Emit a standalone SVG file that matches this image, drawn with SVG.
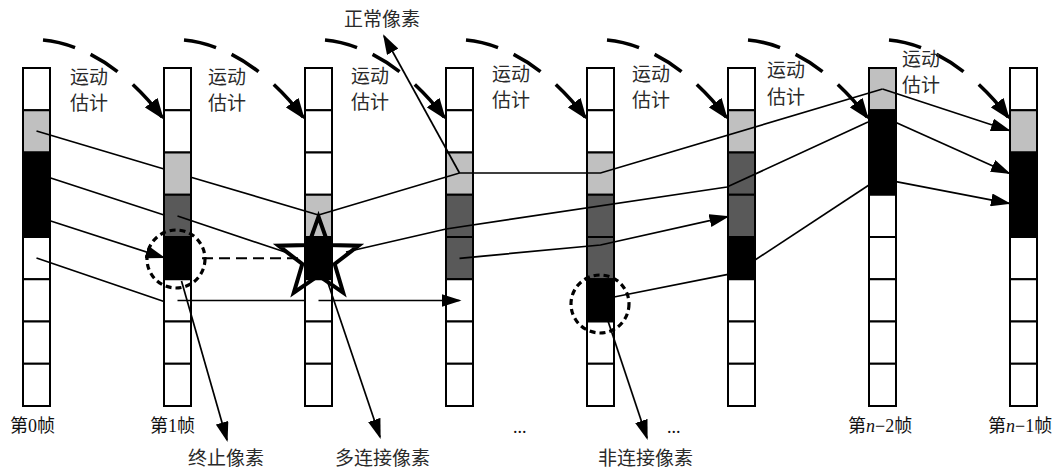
<svg xmlns="http://www.w3.org/2000/svg" xmlns:xlink="http://www.w3.org/1999/xlink" width="1064" height="469" viewBox="0 0 1064 469">
<style>
.cw{fill:#fff;stroke:#000;stroke-width:2}
.cl{fill:#c0c0c0;stroke:#000;stroke-width:2}
.cd{fill:#595959;stroke:#000;stroke-width:2}
.cb{fill:#000;stroke:#000;stroke-width:2}
.ln{fill:none;stroke:#000;stroke-width:1.7}
.ar{fill:none;stroke:#000;stroke-width:1.7;marker-end:url(#arr)}
.me{fill:none;stroke:#000;stroke-width:3.6;stroke-dasharray:33 17 32 20 80;marker-end:url(#arrB)}
.dsh{fill:none;stroke:#000;stroke-width:2;stroke-dasharray:11 6}
.ring{fill:none;stroke:#000;stroke-width:3.2;stroke-dasharray:6 4}
.lab{font-family:"Noto Sans CJK SC","Noto Sans",sans-serif;font-size:19px;fill:#2a2a2a}
.frm{font-family:"Liberation Serif","Noto Sans CJK SC",serif;font-size:18px;fill:#111}
</style>
<defs>
<marker id="arr" markerUnits="userSpaceOnUse" markerWidth="20" markerHeight="13" refX="18" refY="6.5" orient="auto"><path d="M0,0 L20,6.5 L0,13 z" fill="#000"/></marker>
<marker id="arrB" markerUnits="userSpaceOnUse" markerWidth="21" markerHeight="16" refX="18" refY="8" orient="auto"><path d="M0,0 L21,8 L0,16 z" fill="#000"/></marker>
</defs>
<rect width="1064" height="469" fill="#fff"/>

<g id="frame0">
<rect class="cw" x="23" y="68" width="27" height="42.25"/>
<rect class="cl" x="23" y="110.25" width="27" height="42.25"/>
<rect class="cb" x="23" y="152.5" width="27" height="42.25"/>
<rect class="cb" x="23" y="194.75" width="27" height="42.25"/>
<rect class="cw" x="23" y="237" width="27" height="42.25"/>
<rect class="cw" x="23" y="279.25" width="27" height="42.25"/>
<rect class="cw" x="23" y="321.5" width="27" height="42.25"/>
<rect class="cw" x="23" y="363.75" width="27" height="42.25"/>
</g>
<g id="frame1">
<rect class="cw" x="164" y="68" width="27" height="42.25"/>
<rect class="cw" x="164" y="110.25" width="27" height="42.25"/>
<rect class="cl" x="164" y="152.5" width="27" height="42.25"/>
<rect class="cd" x="164" y="194.75" width="27" height="42.25"/>
<rect class="cb" x="164" y="237" width="27" height="42.25"/>
<rect class="cw" x="164" y="279.25" width="27" height="42.25"/>
<rect class="cw" x="164" y="321.5" width="27" height="42.25"/>
<rect class="cw" x="164" y="363.75" width="27" height="42.25"/>
</g>
<g id="frame2">
<rect class="cw" x="305" y="68" width="27" height="42.25"/>
<rect class="cw" x="305" y="110.25" width="27" height="42.25"/>
<rect class="cw" x="305" y="152.5" width="27" height="42.25"/>
<rect class="cl" x="305" y="194.75" width="27" height="42.25"/>
<rect class="cb" x="305" y="237" width="27" height="42.25"/>
<rect class="cw" x="305" y="279.25" width="27" height="42.25"/>
<rect class="cw" x="305" y="321.5" width="27" height="42.25"/>
<rect class="cw" x="305" y="363.75" width="27" height="42.25"/>
</g>
<g id="frame3">
<rect class="cw" x="446" y="68" width="27" height="42.25"/>
<rect class="cw" x="446" y="110.25" width="27" height="42.25"/>
<rect class="cl" x="446" y="152.5" width="27" height="42.25"/>
<rect class="cd" x="446" y="194.75" width="27" height="42.25"/>
<rect class="cd" x="446" y="237" width="27" height="42.25"/>
<rect class="cw" x="446" y="279.25" width="27" height="42.25"/>
<rect class="cw" x="446" y="321.5" width="27" height="42.25"/>
<rect class="cw" x="446" y="363.75" width="27" height="42.25"/>
</g>
<g id="frame4">
<rect class="cw" x="587" y="68" width="27" height="42.25"/>
<rect class="cw" x="587" y="110.25" width="27" height="42.25"/>
<rect class="cl" x="587" y="152.5" width="27" height="42.25"/>
<rect class="cd" x="587" y="194.75" width="27" height="42.25"/>
<rect class="cd" x="587" y="237" width="27" height="42.25"/>
<rect class="cb" x="587" y="279.25" width="27" height="42.25"/>
<rect class="cw" x="587" y="321.5" width="27" height="42.25"/>
<rect class="cw" x="587" y="363.75" width="27" height="42.25"/>
</g>
<g id="frame5">
<rect class="cw" x="728" y="68" width="27" height="42.25"/>
<rect class="cl" x="728" y="110.25" width="27" height="42.25"/>
<rect class="cd" x="728" y="152.5" width="27" height="42.25"/>
<rect class="cd" x="728" y="194.75" width="27" height="42.25"/>
<rect class="cb" x="728" y="237" width="27" height="42.25"/>
<rect class="cw" x="728" y="279.25" width="27" height="42.25"/>
<rect class="cw" x="728" y="321.5" width="27" height="42.25"/>
<rect class="cw" x="728" y="363.75" width="27" height="42.25"/>
</g>
<g id="frame6">
<rect class="cl" x="869" y="68" width="27" height="42.25"/>
<rect class="cb" x="869" y="110.25" width="27" height="42.25"/>
<rect class="cb" x="869" y="152.5" width="27" height="42.25"/>
<rect class="cw" x="869" y="194.75" width="27" height="42.25"/>
<rect class="cw" x="869" y="237" width="27" height="42.25"/>
<rect class="cw" x="869" y="279.25" width="27" height="42.25"/>
<rect class="cw" x="869" y="321.5" width="27" height="42.25"/>
<rect class="cw" x="869" y="363.75" width="27" height="42.25"/>
</g>
<g id="frame7">
<rect class="cw" x="1010" y="68" width="27" height="42.25"/>
<rect class="cl" x="1010" y="110.25" width="27" height="42.25"/>
<rect class="cb" x="1010" y="152.5" width="27" height="42.25"/>
<rect class="cb" x="1010" y="194.75" width="27" height="42.25"/>
<rect class="cw" x="1010" y="237" width="27" height="42.25"/>
<rect class="cw" x="1010" y="279.25" width="27" height="42.25"/>
<rect class="cw" x="1010" y="321.5" width="27" height="42.25"/>
<rect class="cw" x="1010" y="363.75" width="27" height="42.25"/>
</g>

<g id="motion-arrows">
<path class="me" d="M43,40 C85,44 128,72 162,117"/>
<path class="me" transform="translate(141,0)" d="M43,40 C85,44 128,72 162,117"/>
<path class="me" transform="translate(282,0)" d="M43,40 C85,44 128,72 162,117"/>
<path class="me" transform="translate(423,0)" d="M43,40 C85,44 128,72 162,117"/>
<path class="me" transform="translate(564,0)" d="M43,40 C85,44 128,72 162,117"/>
<path class="me" transform="translate(705,0)" d="M43,40 C85,44 128,72 162,117"/>
<path class="me" transform="translate(846,0)" d="M43,40 C85,44 128,72 162,117"/>
</g>

<g id="connectors">
<line class="ln" x1="36.5" y1="131" x2="164" y2="169"/>
<line class="ln" x1="191" y1="177.2" x2="318.5" y2="215"/>
<polyline class="ln" points="318.5,215 459.5,173 600.5,173 882.5,89"/>
<line class="ar" x1="882.5" y1="89" x2="1009" y2="130.5"/>

<line class="ln" x1="50.7" y1="178" x2="164" y2="215"/>
<line class="ln" x1="177.5" y1="216" x2="285" y2="252"/>
<polyline class="ln" points="346,252 446,229 727,187 868,122"/>
<line class="ar" x1="896.5" y1="122.7" x2="1009" y2="173.3"/>

<polyline class="ar" points="459.5,258.3 600.5,245 727.5,216.7"/>

<line class="ln" x1="36.5" y1="258" x2="164" y2="301.5"/>
<line class="ln" x1="177.5" y1="300.5" x2="305" y2="300.5"/>
<line class="ar" x1="318.5" y1="300.5" x2="459.5" y2="300.5"/>

<line class="ar" x1="50.7" y1="221" x2="163.5" y2="257.5"/>

<line class="ln" x1="614" y1="297" x2="728" y2="274.3"/>
<line class="ln" x1="755" y1="260" x2="869" y2="185"/>
<line class="ar" x1="896" y1="181.7" x2="1009" y2="203.3"/>

<line class="ar" x1="459.5" y1="173" x2="384" y2="36"/>
<line class="ar" x1="181.5" y1="281" x2="227" y2="440"/>
<line class="ar" x1="328" y1="283" x2="380" y2="437"/>
<line class="ar" x1="608" y1="321" x2="647" y2="438"/>

<line class="dsh" x1="202" y1="258.3" x2="298" y2="258.3"/>
</g>

<g id="terminal-pixel">
<circle class="ring" cx="176" cy="259" r="29"/>
</g>
<g id="multi-pixel">
<polygon points="318.5,216.7 328.5,245 358.5,245.7 334.7,264 343.2,292.7 318.5,275.7 293.8,292.7 302.3,264 278.5,245.7 308.5,245" fill="none" stroke="#000" stroke-width="4" stroke-linejoin="miter"/>
</g>
<g id="nonconnected-pixel">
<circle class="ring" cx="600" cy="304" r="29"/>
</g>

<g id="labels">
<text class="lab" x="70" y="84">运动</text><text class="lab" x="70" y="110">估计</text>
<text class="lab" x="208" y="84">运动</text><text class="lab" x="208" y="110">估计</text>
<text class="lab" x="351" y="83">运动</text><text class="lab" x="351" y="109">估计</text>
<text class="lab" x="492" y="81">运动</text><text class="lab" x="492" y="107">估计</text>
<text class="lab" x="632" y="81">运动</text><text class="lab" x="632" y="107">估计</text>
<text class="lab" x="767" y="77">运动</text><text class="lab" x="767" y="104">估计</text>
<text class="lab" x="902" y="66">运动</text><text class="lab" x="902" y="92">估计</text>

<text class="lab" x="344" y="26">正常像素</text>
<text class="lab" x="188" y="465">终止像素</text>
<text class="lab" x="335" y="465">多连接像素</text>
<text class="lab" x="598" y="465">非连接像素</text>

<text class="frm" x="10" y="432">第0帧</text>
<text class="frm" x="150" y="432">第1帧</text>
<text class="frm" x="848" y="432">第<tspan font-style="italic">n</tspan>−2帧</text>
<text class="frm" x="988" y="432">第<tspan font-style="italic">n</tspan>−1帧</text>
<text class="frm" x="513" y="433" font-size="14">...</text>
<text class="frm" x="667" y="433" font-size="14">...</text>
</g>
</svg>
